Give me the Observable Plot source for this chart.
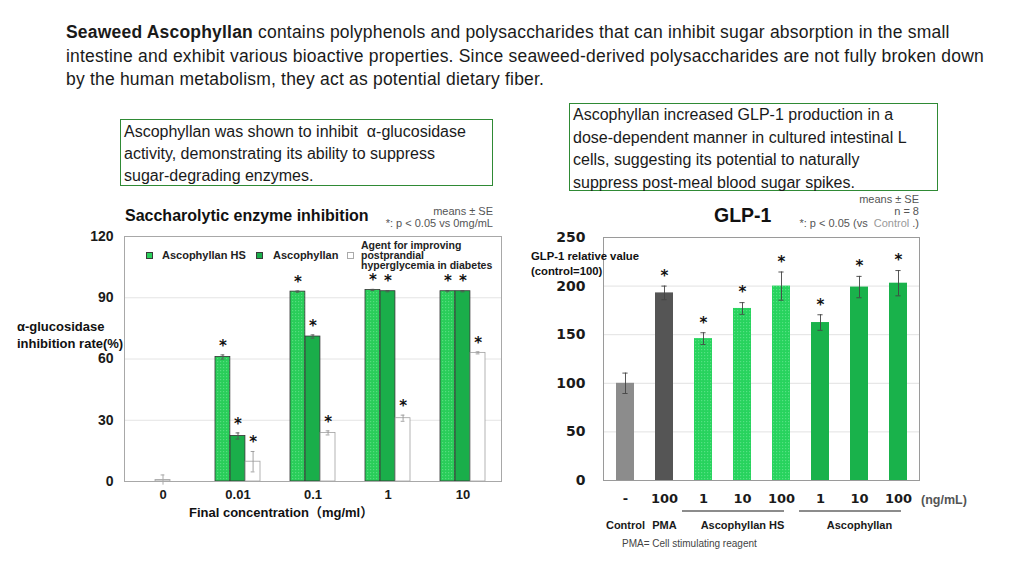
<!DOCTYPE html>
<html>
<head>
<meta charset="utf-8">
<script src="https://cdn.jsdelivr.net/npm/d3@7"></script>
<script src="https://cdn.jsdelivr.net/npm/@observablehq/plot@0.6"></script>
<style>
  body { margin: 0; background: #fff; }
  #page { position: relative; width: 1024px; height: 576px; overflow: hidden; background: #fff;
          font-family: "Liberation Sans", Arial, "Noto Sans CJK JP", sans-serif; color: #1a1a1a; }
  .abs { position: absolute; white-space: nowrap; }
  #header { left: 66px; top: 21px; font-size: 17.5px; letter-spacing: 0.2px; line-height: 23.5px; color: #1a1a1a; }
  .box { position: absolute; border: 1.5px solid #2f8a35; box-sizing: border-box; background: #fff;
         font-size: 16px; color: #1a1a1a; white-space: nowrap; padding-left: 3px; }
  #leftBox { left: 120px; top: 119px; width: 373px; height: 67px; line-height: 22px; padding-top: 1px; }
  #rightBox { left: 569px; top: 103px; width: 369px; height: 88px; line-height: 22.6px; padding-top: 0px; }
  .chartTitle { font-weight: bold; color: #111; }
  .note { font-family: "Liberation Sans", Arial, sans-serif; font-size: 11px; color: #555; text-align: right; line-height: 12px; }
  .ylab { font-weight: bold; color: #111; }
  .legSq { position: absolute; width: 7px; height: 7px; box-sizing: border-box; }
  .legTx { position: absolute; font-size: 11px; font-weight: bold; color: #222; white-space: nowrap; }
  svg { position: absolute; overflow: visible; }
  g[aria-label^="y-axis"] text { font-size: 14px; }
</style>
</head>
<body>
<div id="page">
  <div id="header" class="abs"><b>Seaweed Ascophyllan</b> contains polyphenols and polysaccharides that can inhibit sugar absorption in the small<br>intestine and exhibit various bioactive properties. Since seaweed-derived polysaccharides are not fully broken down<br>by the human metabolism, they act as potential dietary fiber.</div>

  <div id="leftBox" class="box">Ascophyllan was shown to inhibit &nbsp;α-glucosidase<br>activity, demonstrating its ability to suppress<br>sugar-degrading enzymes.</div>
  <div id="rightBox" class="box">Ascophyllan increased GLP-1 production in a<br>dose-dependent manner in cultured intestinal L<br>cells, suggesting its potential to naturally<br>suppress post-meal blood sugar spikes.</div>

  <div id="leftChart" class="abs" style="left:0;top:225px;width:520px;height:300px;"></div>
  <div id="rightChart" class="abs" style="left:520px;top:225px;width:500px;height:310px;"></div>

  <!-- left chart texts -->
  <div class="abs chartTitle" style="left:125px;top:207px;font-size:16px;">Saccharolytic enzyme inhibition</div>
  <div class="abs note" style="right:531px;top:205px;">means ± SE<br>*: p &lt; 0.05 vs 0mg/mL</div>
  <div class="abs ylab" style="left:17px;top:318px;font-size:13px;line-height:17px;">α-glucosidase<br>inhibition rate(%)</div>
  <div class="abs ylab" style="left:189px;top:502px;font-size:13px;font-family:'Liberation Sans','Noto Sans CJK JP',sans-serif;">Final concentration（mg/ml）</div>

  <div class="legSq" style="left:146px;top:252px;background:#2bd05b;border:1px solid #3a3a3a;"></div>
  <div class="legTx" style="left:162px;top:249px;">Ascophyllan HS</div>
  <div class="legSq" style="left:256px;top:252px;background:#1aae4a;border:1px solid #3a3a3a;"></div>
  <div class="legTx" style="left:273px;top:249px;">Ascophyllan</div>
  <div class="legSq" style="left:347px;top:252px;background:#fff;border:1px solid #aaa;"></div>
  <div class="legTx" style="left:361px;top:240px;font-size:10.5px;line-height:10px;">Agent for improving<br>postprandial<br>hyperglycemia in diabetes</div>

  <!-- right chart texts -->
  <div class="abs chartTitle" style="left:714px;top:204px;font-size:19.5px;">GLP-1</div>
  <div class="abs note" style="right:105px;top:193px;">means ± SE<br>n = 8<br>*: p &lt; 0.05 (vs &nbsp;<span style="color:#999;">Control</span>&nbsp;.)</div>
  <div class="abs ylab" style="left:531px;top:249px;font-size:11.3px;line-height:15px;">GLP-1 relative value<br>(control=100)</div>
  <div class="abs ylab" style="left:921px;top:493px;font-size:12.5px;color:#555;">(ng/mL)</div>
  <div class="abs" style="left:622px;top:538px;font-size:10px;color:#444;">PMA= Cell stimulating reagent</div>
</div>

<script>
// ---------- Left chart data (α-glucosidase inhibition, %) ----------
const leftConcs = ["0", "0.01", "0.1", "1", "10"];
const seriesConcs = ["0.01", "0.1", "1", "10"];
const hsValues = [61, 93, 93.8, 93.2];
const hsErrors = [1, 0.3, 0.3, 0.3];
const ascoValues = [22.3, 71, 93.2, 93.2];
const ascoErrors = [1.5, 0.8, 0.3, 0.3];
const agentValues = [9.7, 23.8, 31, 63];
const agentErrors = [5, 1, 1.5, 0.5];
const controlConcs = ["0"];
const controlValues = [0.7];
const controlErrors = [2.5];
const leftTicks = [0, 30, 60, 90, 120];
const leftGrid = [30, 60, 90];

// ---------- Right chart data (GLP-1 relative value) ----------
const glpCats = ["Control", "PMA", "HS1", "HS10", "HS100", "A1", "A10", "A100"];
const glpTickLabels = ["-", "100", "1", "10", "100", "1", "10", "100"];
const glpGroups = ["control", "pma", "hs", "hs", "hs", "asco", "asco", "asco"];
const glpValues = [100, 193, 146, 177, 200, 162.5, 199, 203];
const glpErrors = [10.5, 7, 6, 6, 14.5, 8, 11, 13];
const glpSignificant = [false, true, true, true, true, true, true, true];
const glpTicks = [0, 50, 100, 150, 200, 250];
const glpGrid = [50, 100, 150, 200];
const glpGroupLabels = ["Control", "PMA", "Ascophyllan HS", "Ascophyllan"];
const glpGroupAnchors = ["Control", "PMA", "HS10", "A10"];
const glpUnderlineFrom = ["HS1", "A1"];
const glpUnderlineTo = ["HS100", "A100"];

function addDots(svg, id, base, dot) {
  const defs = d3.select(svg).insert("defs", ":first-child");
  const p = defs.append("pattern").attr("id", id)
    .attr("patternUnits", "userSpaceOnUse").attr("width", 3).attr("height", 3);
  p.append("rect").attr("width", 3).attr("height", 3).attr("fill", base);
  p.append("rect").attr("x", 1).attr("y", 1).attr("width", 1.2).attr("height", 1.2).attr("fill", dot);
}

// ---------- Left chart ----------
{
  const mk = (concs, vals, errs) => vals.map((v, i) => ({conc: concs[i], value: v, err: errs[i]}));
  const hsRows = mk(seriesConcs, hsValues, hsErrors);
  const ascoRows = mk(seriesConcs, ascoValues, ascoErrors);
  const agentRows = mk(seriesConcs, agentValues, agentErrors);
  const ctrlRows = mk(controlConcs, controlValues, controlErrors);
  const third = 15.08;
  const slots = [
    {rows: hsRows, il: 0, ir: 2 * third, dx: -third, fill: "url(#leftDots)", stroke: "#333", err: "#555"},
    {rows: ascoRows, il: third, ir: third, dx: 0, fill: "#1aae4a", stroke: "#333", err: "#555"},
    {rows: agentRows, il: 2 * third, ir: 0, dx: third, fill: "#fff", stroke: "#a0a0a0", err: "#999"}
  ];
  const marks = [Plot.ruleY(leftGrid, {stroke: "#e4e4e4"})];
  marks.push(Plot.barY(ctrlRows, {x: "conc", y: "value", fill: "#fff", stroke: "#aaa", insetLeft: third, insetRight: third}));
  marks.push(Plot.ruleX(ctrlRows, {x: "conc", y1: d => d.value - d.err, y2: d => d.value + d.err, stroke: "#aaa"}));
  marks.push(Plot.tickY(ctrlRows, {x: "conc", y: d => d.value + d.err, stroke: "#aaa", insetLeft: 20.6, insetRight: 20.6}));
  for (const s of slots) {
    marks.push(Plot.barY(s.rows, {x: "conc", y: "value", fill: s.fill, stroke: s.stroke, strokeWidth: 0.8, insetLeft: s.il, insetRight: s.ir}));
    marks.push(Plot.ruleX(s.rows, {x: "conc", y1: d => d.value - d.err, y2: d => d.value + d.err, dx: s.dx, stroke: s.err, strokeWidth: 0.9}));
    marks.push(Plot.tickY(s.rows, {x: "conc", y: d => d.value + d.err, dx: s.dx, stroke: s.err, strokeWidth: 0.9, insetLeft: 20.6, insetRight: 20.6}));
    marks.push(Plot.tickY(s.rows, {x: "conc", y: d => d.value - d.err, dx: s.dx, stroke: s.err, strokeWidth: 0.9, insetLeft: 20.6, insetRight: 20.6}));
    marks.push(Plot.text(s.rows, {x: "conc", y: d => d.value + d.err, text: () => "*", dx: s.dx, dy: -9,
      fontFamily: "DejaVu Sans", fontSize: 15, fontWeight: "bold", fill: "#111"}));
  }
  marks.push(Plot.frame({stroke: "#a8a8a8"}));
  const plot = Plot.plot({
    width: 520, height: 300,
    marginLeft: 124, marginRight: 19, marginTop: 11, marginBottom: 44,
    style: {fontFamily: "Liberation Sans, Arial, sans-serif", fontSize: "13px", fontWeight: "bold", color: "#1a1a1a", background: "transparent"},
    x: {domain: leftConcs, paddingInner: 0.4, paddingOuter: 0.2, tickSize: 0, tickPadding: 8, label: null},
    y: {domain: [0, 120], ticks: leftTicks, tickSize: 0, tickPadding: 11, label: null},
    marks
  });
  addDots(plot, "leftDots", "#29cd59", "#55dd7e");
  document.getElementById("leftChart").appendChild(plot);
}

// ---------- Right chart ----------
{
  const rows = glpCats.map((c, i) => ({cat: c, value: glpValues[i], err: glpErrors[i], group: glpGroups[i], sig: glpSignificant[i]}));
  const fills = {control: "#8c8c8c", pma: "#555555", hs: "url(#rightDots)", asco: "#19b24b"};
  const marks = [Plot.ruleY(glpGrid, {stroke: "#e2e2e2"})];
  for (const g of Object.keys(fills)) {
    marks.push(Plot.barY(rows.filter(d => d.group === g), {x: "cat", y: "value", fill: fills[g]}));
  }
  marks.push(Plot.ruleX(rows, {x: "cat", y1: d => d.value - d.err, y2: d => d.value + d.err, stroke: "#444", strokeWidth: 0.9}));
  marks.push(Plot.tickY(rows, {x: "cat", y: d => d.value + d.err, stroke: "#444", strokeWidth: 0.9, insetLeft: 6.4, insetRight: 6.4}));
  marks.push(Plot.tickY(rows, {x: "cat", y: d => d.value - d.err, stroke: "#444", strokeWidth: 0.9, insetLeft: 6.4, insetRight: 6.4}));
  marks.push(Plot.text(rows.filter(d => d.sig), {x: "cat", y: d => d.value + d.err, text: () => "*", dy: -10,
    fontFamily: "DejaVu Sans", fontSize: 15, fontWeight: "bold", fill: "#111"}));
  const groupRows = glpGroupLabels.map((l, i) => ({label: l, cat: glpGroupAnchors[i]}));
  marks.push(Plot.text(groupRows, {x: "cat", text: "label", frameAnchor: "bottom", dy: 48,
    fontFamily: "Liberation Sans, Arial, sans-serif", fontSize: 11, fontWeight: "bold", fill: "#1a1a1a"}));
  marks.push(Plot.frame({stroke: "#9a9a9a"}));
  const labelOf = Object.fromEntries(glpCats.map((c, i) => [c, glpTickLabels[i]]));
  const plot = Plot.plot({
    width: 500, height: 310,
    marginLeft: 83, marginRight: 101, marginTop: 12, marginBottom: 55,
    style: {fontFamily: "DejaVu Sans, sans-serif", fontSize: "13px", fontWeight: "bold", color: "#1a1a1a", background: "transparent"},
    x: {domain: glpCats, paddingInner: 0.55, paddingOuter: 0.275, tickSize: 0, tickPadding: 13, tickFormat: d => labelOf[d], label: null},
    y: {domain: [0, 250], ticks: glpTicks, tickSize: 0, tickPadding: 18, label: null},
    marks
  });
  addDots(plot, "rightDots", "#27d35d", "#55e183");
  // group underlines from the x scale
  const sx = plot.scale("x");
  const bottom = 310 - 55;
  const svg = d3.select(plot);
  glpUnderlineFrom.forEach((from, i) => {
    const x1 = sx.apply(from) - sx.bandwidth / 2 - 3;
    const x2 = sx.apply(glpUnderlineTo[i]) + sx.bandwidth / 2 + 3;
    svg.append("line").attr("x1", x1).attr("x2", x2).attr("y1", bottom + 31).attr("y2", bottom + 31)
      .attr("stroke", "#666").attr("stroke-width", 1.5);
  });
  document.getElementById("rightChart").appendChild(plot);
}
</script>
</body>
</html>
